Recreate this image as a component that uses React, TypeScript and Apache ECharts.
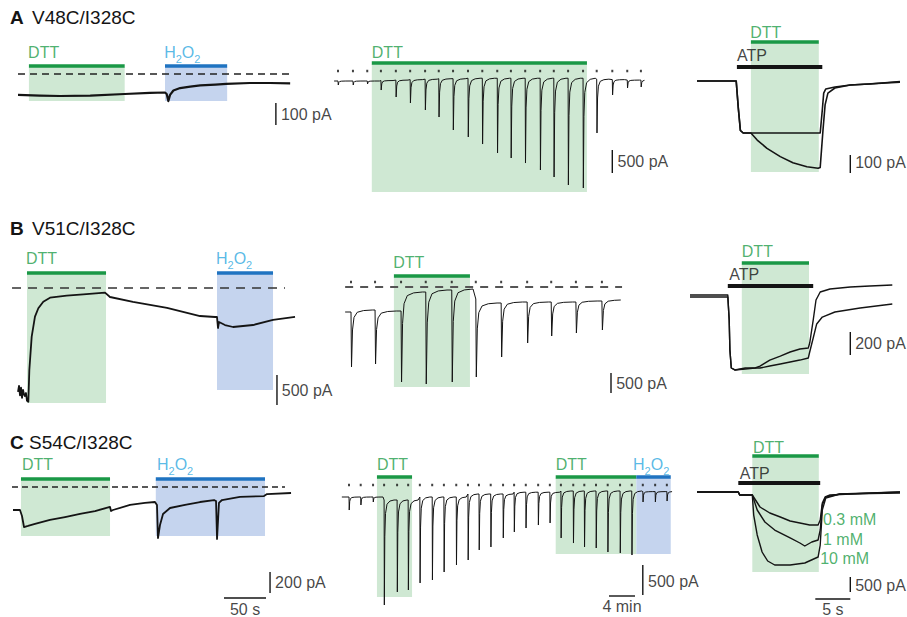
import React, { useEffect, useRef } from "react";
import * as echarts from "echarts";

type Pt = [number, number];

// ================= DATA (time in s or min, current in pA; 0 = zero-current level) =================
// ---- A: V48C/I328C ----
const a1Trace: Pt[] = [[0,-95],[26,-98],[50,-100],[86,-98],[127,-91],[157,-86],[175,-84],[177,-91],[179,-123],[181,-95],[185,-75],[193,-64],[205,-57],[217,-52],[235,-48],[248,-45],[276,-41],[300,-41],[324,-43]];
const a1Dtt: Pt = [13, 127];
const a1H2o2: Pt = [175, 249];

const a2Times = [0, 2.3, 4.5, 6.6, 8.9, 11.1, 13.4, 15.5, 17.7, 20.0, 22.2, 24.5, 26.6, 28.8, 31.1, 33.2, 35.4, 37.7, 39.8, 42.2, 44.5, 46.6];
const a2Peaks = [-87, -87, -65, -196, -348, -478, -630, -783, -1065, -1217, -1370, -1565, -1674, -1783, -1935, -2087, -2261, -2326, -1130, -304, -152, -130];
const a2Base = [0, 0, 0, 10, 20, 30, 40, 50, 50, 60, 60, 60, 60, 60, 60, 60, 60, 60, 40, 30, 20, 20];
const a2Dtt: Pt = [5.2, 38.3];

const a3TraceAtp: Pt[] = [[0,0],[5.6,0],[5.9,-150],[6.2,-275],[6.6,-289],[10,-289],[14,-289],[17.6,-289],[17.9,-161],[18.1,-67],[18.4,-44],[19.7,-33],[21.9,-22],[24.7,-17],[29,-3]];
const a3TraceDtt: Pt[] = [[0,0],[5.6,0],[5.9,-150],[6.2,-275],[6.6,-289],[7.7,-289],[8.6,-328],[10,-374],[11.9,-420],[13.7,-454],[15.7,-476],[17.3,-485],[17.6,-480],[18,-272],[18.3,-133],[18.7,-67],[19.7,-39],[21.9,-22],[29,-6]];
const a3Dtt: Pt = [7.7, 17.4];
const a3Atp: Pt = [5.7, 17.9];

// ---- B: V51C/I328C ----
const b1Trace: Pt[] = [[0,-1730],[1.2,-1630],[2.4,-1790],[3.6,-1660],[4.8,-1830],[6,-1700],[7.1,-1770],[8.3,-1800],[9.5,-1750],[10.7,-1880],[12.3,-1895],[13.5,-1367],[16.3,-811],[20.2,-478],[24.2,-338],[30.1,-228],[38.1,-162],[58,-128],[77.7,-105],[103.6,-78],[109.5,-150],[136.9,-233],[177.4,-333],[216.7,-467],[234.5,-483],[236.9,-483],[238.1,-667],[239.3,-567],[246.4,-617],[256,-650],[279.8,-617],[303.6,-533],[329.8,-483]];
const b1Dtt: Pt = [10.7, 104.8];
const b1H2o2: Pt = [236.9, 303.6];

const b2Times = [0, 3.7, 7.7, 11.5, 15.5, 19.2, 23.1, 27.1, 30.8, 34.6, 38.6];
const b2Peaks = [-2000, -1925, -2375, -2425, -2375, -2250, -1750, -1400, -1225, -1150, -1075];
const b2Pre = [-625, -575, -600, -125, -75, -300, -400, -375, -375, -375, -350];
const b2Post = [-575, -600, -125, -75, -50, -400, -375, -375, -375, -350, -325];
const b2Dtt: Pt = [6.6, 18.3];

const b3TraceUpper: Pt[] = [[0,9],[5.4,9],[5.6,-209],[5.7,-470],[5.9,-626],[6.4,-643],[7.9,-635],[9.3,-626],[10,-609],[11.4,-557],[12.9,-522],[14.3,-487],[15.7,-461],[16.9,-452],[17.1,-409],[17.6,-209],[18,-35],[18.6,35],[20,61],[22.9,78],[25.7,87],[28.9,96]];
const b3TraceLower: Pt[] = [[0,-9],[5.4,-9],[5.6,-209],[5.7,-470],[5.9,-626],[6.4,-643],[7.9,-626],[10,-626],[11.4,-609],[12.9,-591],[14.3,-574],[15.7,-557],[16.9,-539],[17.1,-487],[17.6,-365],[18.1,-243],[18.9,-183],[20.7,-139],[24.3,-104],[28.9,-70]];
const b3Dtt: Pt = [7.4, 17.0];
const b3Atp: Pt = [5.4, 17.6];

// ---- C: S54C/I328C ----
const c1Trace: Pt[] = [[0,-219],[8.3,-219],[10.7,-276],[13.1,-381],[17.9,-371],[26.2,-352],[44,-314],[61.9,-286],[79.8,-257],[97.6,-229],[115.5,-190],[116.7,-229],[119,-219],[139.3,-171],[157.1,-152],[169,-143],[171.4,-171],[172.6,-486],[175,-362],[178.6,-257],[186.9,-200],[204.8,-171],[222.6,-143],[239.3,-124],[241.7,-133],[242.9,-495],[245.2,-152],[248.8,-124],[270.2,-95],[298.8,-86],[302.4,-67],[331,-57]];
const c1Dtt: Pt = [9.5, 115.5];
const c1H2o2: Pt = [170, 300];

const c2Times = [0, 1.8, 3.7, 5.4, 7.4, 9.1, 10.9, 12.8, 14.6, 16.5, 18.3, 20, 21.8, 23.7, 25.4, 27.2, 29.1, 30.9, 32.6, 34.5, 36.2, 38, 39.8, 41.7, 43.5, 45.2, 47.1, 48.9];
const c2Peaks = [-217, -133, -83, -1800, -1583, -1550, -1433, -1383, -1250, -1133, -1050, -883, -833, -683, -583, -517, -467, -433, -683, -767, -833, -850, -917, -933, -967, -83, -83, -67];
const c2Base = [0, 0, 0, -50, -50, -50, 0, 0, 0, 0, 50, 50, 50, 50, 80, 80, 80, 80, 100, 100, 100, 100, 100, 100, 100, 90, 90, 90];
const c2Dtt1: Pt = [4.3, 9.7];
const c2Dtt2: Pt = [31.8, 44.2];
const c2H2o2: Pt = [44.2, 49.5];

const c3Trace03: Pt[] = [[0,0],[5.9,0],[6.1,-100],[7.9,-100],[9,-500],[10.4,-700],[11.9,-833],[13.3,-967],[14.7,-1033],[16.1,-1100],[17.3,-1100],[17.6,-933],[17.9,-367],[18.3,-167],[19,-100],[21.9,-67],[29,0]];
const c3Trace1: Pt[] = [[0,0],[5.9,0],[6.1,-100],[7.9,-100],[8.6,-600],[9.7,-1000],[11.1,-1267],[13.3,-1533],[14.7,-1700],[15.4,-1800],[15.9,-1733],[16.4,-1667],[17.3,-1600],[17.6,-1267],[17.9,-433],[18.4,-167],[20.4,-67],[29,0]];
const c3Trace10: Pt[] = [[0,0],[5.9,0],[6.1,-100],[7.9,-100],[8.1,-767],[8.6,-1433],[9.3,-2000],[10.1,-2300],[11.1,-2433],[13.3,-2433],[15.4,-2367],[17.3,-2167],[17.6,-1767],[17.9,-600],[18.4,-200],[20.4,-67],[29,-33]];
const c3Dtt: Pt = [7.9, 17.4];
const c3Atp: Pt = [5.9, 17.6];
const c3Concs = ["0.3 mM", "1 mM", "10 mM"];

const panelTitles = [["A", "V48C/I328C"], ["B", "V51C/I328C"], ["C", "S54C/I328C"]];
const scaleTexts = ["100 pA", "500 pA", "100 pA", "500 pA", "500 pA", "200 pA", "200 pA", "500 pA", "500 pA"];
const timeTexts = ["50 s", "4 min", "5 s"];

// ================= STYLE / LAYOUT =================
const FONT = "'Liberation Sans', Arial, Helvetica, sans-serif";
const GREEN_TEXT = "#1f9d4a";
const GREEN_BAR = "#1a9846";
const BLUE_BAR = "#1f73c1";
const BLUE_TEXT = "#2ea8e0";
const GREEN_SHADE = "#cfe8d3";
const BLUE_SHADE = "#c5d4ee";
const INK = "#141414";

interface Frame { left: number; top: number; width: number; height: number; x0: number; y0: number; pxX: number; pxY: number; }
const frames: Frame[] = [
  { left: 0, top: 35, width: 345, height: 170, x0: 18, y0: 74, pxX: 0.84, pxY: 0.22 },
  { left: 320, top: 35, width: 360, height: 170, x0: 338, y0: 81, pxX: 6.5, pxY: 0.046 },
  { left: 680, top: 20, width: 227, height: 180, x0: 697, y0: 81, pxX: 7, pxY: 0.18 },
  { left: 0, top: 240, width: 345, height: 180, x0: 18, y0: 288, pxX: 0.84, pxY: 0.06 },
  { left: 320, top: 240, width: 360, height: 170, x0: 351, y0: 287, pxX: 6.5, pxY: 0.04 },
  { left: 680, top: 240, width: 227, height: 170, x0: 690, y0: 296, pxX: 7, pxY: 0.115 },
  { left: 0, top: 440, width: 345, height: 177, x0: 13, y0: 487, pxX: 0.84, pxY: 0.105 },
  { left: 320, top: 440, width: 360, height: 177, x0: 349, y0: 497, pxX: 6.5, pxY: 0.06 },
  { left: 680, top: 430, width: 227, height: 187, x0: 697, y0: 492, pxX: 7, pxY: 0.03 },
];

const pulseShape: Pt[] = [[0.02, 1], [0.06, 0.35], [0.12, 0.13], [0.25, 0.04], [0.5, 0.01], [0.85, 0]];

function train(times: number[], peaks: number[], pre: number[], post: number[], start: number, end: number, spacing: number): Pt[] {
  const pts: Pt[] = [[start, pre[0]]];
  times.forEach((t, i) => {
    pts.push([t, pre[i]]);
    for (const [f, d] of pulseShape) {
      const tt = t + f * spacing;
      if (tt < end) pts.push([tt, post[i] + (peaks[i] - post[i]) * d]);
    }
  });
  pts.push([end, post[post.length - 1]]);
  return pts;
}

const h2o2Rich = {
  n: { fontSize: 16, fontFamily: FONT, color: BLUE_TEXT, lineHeight: 24 },
  s: { fontSize: 11, fontFamily: FONT, color: BLUE_TEXT, lineHeight: 12, verticalAlign: "bottom" },
};
const H2O2 = "{n|H}{s|2}{n|O}{s|2}";

function buildOption() {
  const series: any[] = [];
  const grid = frames.map((f) => ({ left: f.left, top: f.top, width: f.width, height: f.height }));
  const xAxis = frames.map((f, i) => ({
    type: "value", gridIndex: i, show: false,
    min: (f.left - f.x0) / f.pxX, max: (f.left + f.width - f.x0) / f.pxX,
  }));
  const yAxis = frames.map((f, i) => ({
    type: "value", gridIndex: i, show: false,
    max: (f.y0 - f.top) / f.pxY, min: (f.y0 - f.top - f.height) / f.pxY,
  }));

  const shade = (g: number, rects: [Pt, number, number, string][]) => {
    series.push({
      type: "custom", xAxisIndex: g, yAxisIndex: g, silent: true, z: 1,
      data: rects.map((r) => [r[0][0], r[0][1], r[1], r[2]]),
      renderItem: (params: any, api: any) => {
        const a = api.coord([api.value(0), api.value(2)]);
        const b = api.coord([api.value(1), api.value(3)]);
        return { type: "rect", shape: { x: a[0], y: a[1], width: b[0] - a[0], height: b[1] - a[1] }, style: { fill: rects[params.dataIndex][3] } };
      },
    });
  };
  const line = (g: number, data: Pt[], color: string, width: number, z = 3, type: any = "solid") => {
    series.push({
      type: "line", xAxisIndex: g, yAxisIndex: g, data, symbol: "none", silent: true, z,
      lineStyle: { color, width, type, cap: "butt", join: "round" },
    });
  };
  const bar = (g: number, w: Pt, y: number, color: string, width = 3.5) =>
    line(g, [[w[0], y], [w[1], y]], color, width, 4);
  const dash = (g: number, w: Pt, type: number[], color: string, width: number) =>
    line(g, [[w[0], 0], [w[1], 0]], color, width, 2, type);
  const dots = (g: number, times: number[], y: number) => {
    series.push({
      type: "scatter", xAxisIndex: g, yAxisIndex: g, silent: true, z: 4,
      data: times.map((t) => [t, y]), symbol: "rect", symbolSize: [2, 2.5], itemStyle: { color: INK },
    });
  };
  const scaleBar = (g: number, t: number, from: number, to: number) =>
    line(g, [[t, from], [t, to]], INK, 1.4, 4);

  type Lab = { at: Pt; text: string; color?: string; align?: string; rich?: any };
  const labels = (g: number, items: Lab[]) => {
    series.push({
      type: "scatter", xAxisIndex: g, yAxisIndex: g, silent: true, z: 6,
      symbolSize: 1, itemStyle: { color: "rgba(0,0,0,0)" },
      data: items.map((it) => ({
        value: it.at,
        label: {
          show: true, position: "inside", formatter: it.text, color: it.color || INK,
          fontSize: 16, fontFamily: FONT, align: it.align || "left", verticalAlign: "middle",
          rich: it.rich,
        },
      })),
    });
  };

  // ---- A1 ----
  shade(0, [[a1Dtt, 32, -123, GREEN_SHADE], [a1H2o2, 32, -123, BLUE_SHADE]]);
  dash(0, [0, 324], [7, 5], "#222", 1.3);
  line(0, a1Trace, INK, 2.2);
  bar(0, a1Dtt, 36, GREEN_BAR);
  bar(0, a1H2o2, 36, BLUE_BAR);
  scaleBar(0, 307, -132, -232);
  labels(0, [
    { at: [12, 100], text: "DTT", color: GREEN_TEXT },
    { at: [174, 100], text: H2O2, color: BLUE_TEXT, rich: h2o2Rich },
    { at: [313, -186], text: scaleTexts[0] },
  ]);

  // ---- A2 ----
  shade(1, [[a2Dtt, 370, -2413, GREEN_SHADE]]);
  line(1, train(a2Times, a2Peaks, a2Base, a2Base, -0.6, 47.2, 2.2), INK, 1);
  dots(1, a2Times, 217);
  bar(1, a2Dtt, 391, GREEN_BAR);
  scaleBar(1, 42.2, -1500, -2000);
  labels(1, [
    { at: [5.2, 630], text: "DTT", color: GREEN_TEXT },
    { at: [43, -1760], text: scaleTexts[1] },
  ]);

  // ---- A3 ----
  shade(2, [[a3Dtt, 211, -506, GREEN_SHADE]]);
  line(2, a3TraceAtp, INK, 1.6);
  line(2, a3TraceDtt, INK, 1.6);
  bar(2, a3Dtt, 217, GREEN_BAR);
  bar(2, a3Atp, 78, INK, 4);
  scaleBar(2, 21.9, -411, -511);
  labels(2, [
    { at: [7.6, 267], text: "DTT", color: GREEN_TEXT },
    { at: [5.7, 144], text: "ATP" },
    { at: [22.6, -455], text: scaleTexts[2] },
  ]);

  // ---- B1 ----
  shade(3, [[b1Dtt, 233, -1917, GREEN_SHADE], [b1H2o2, 233, -1700, BLUE_SHADE]]);
  dash(3, [-7.1, 317.9], [9, 7], "#333", 1.5);
  line(3, b1Trace, INK, 1.8);
  bar(3, b1Dtt, 250, GREEN_BAR);
  bar(3, b1H2o2, 250, BLUE_BAR);
  scaleBar(3, 308.3, -1450, -1950);
  labels(3, [
    { at: [9.5, 500], text: "DTT", color: GREEN_TEXT },
    { at: [235.7, 500], text: H2O2, color: BLUE_TEXT, rich: h2o2Rich },
    { at: [314, -1700], text: scaleTexts[3] },
  ]);

  // ---- B2 ----
  shade(4, [[b2Dtt, 250, -2500, GREEN_SHADE]]);
  dash(4, [-0.9, 41.7], [8, 7], "#555", 2);
  line(4, train(b2Times, b2Peaks, b2Pre, b2Post, -0.9, 41.5, 3.85), INK, 1);
  dots(4, b2Times, 125);
  bar(4, b2Dtt, 275, GREEN_BAR);
  scaleBar(4, 40, -2150, -2650);
  labels(4, [
    { at: [6.5, 625], text: "DTT", color: GREEN_TEXT },
    { at: [40.8, -2400], text: scaleTexts[4] },
  ]);

  // ---- B3 ----
  shade(5, [[b3Dtt, 278, -678, GREEN_SHADE]]);
  line(5, b3TraceUpper, INK, 1.4);
  line(5, b3TraceLower, INK, 1.4);
  bar(5, b3Dtt, 287, GREEN_BAR);
  bar(5, b3Atp, 87, INK, 4);
  scaleBar(5, 22.9, -313, -513);
  labels(5, [
    { at: [7.4, 383], text: "DTT", color: GREEN_TEXT },
    { at: [5.6, 183], text: "ATP" },
    { at: [23.6, -413], text: scaleTexts[5] },
  ]);

  // ---- C1 ----
  shade(6, [[c1Dtt, 67, -467, GREEN_SHADE], [c1H2o2, 67, -467, BLUE_SHADE]]);
  dash(6, [-1.2, 323.8], [6, 4], "#222", 1.3);
  line(6, c1Trace, INK, 1.8);
  bar(6, c1Dtt, 76, GREEN_BAR);
  bar(6, c1H2o2, 76, BLUE_BAR);
  scaleBar(6, 306, -810, -1010);
  line(6, [[251.2, -1057], [301.2, -1057]], INK, 1.4, 4);
  labels(6, [
    { at: [10.7, 210], text: "DTT", color: GREEN_TEXT },
    { at: [171.4, 210], text: H2O2, color: BLUE_TEXT, rich: h2o2Rich },
    { at: [312, -910], text: scaleTexts[6] },
    { at: [276.2, -1171], text: timeTexts[0], align: "center" },
  ]);

  // ---- C2 ----
  shade(7, [[c2Dtt1, 317, -1667, GREEN_SHADE], [c2Dtt2, 317, -950, GREEN_SHADE], [c2H2o2, 317, -950, BLUE_SHADE]]);
  line(7, train(c2Times, c2Peaks, c2Base, c2Base, -1.1, 49.7, 1.8), INK, 1);
  dots(7, c2Times, 200);
  bar(7, c2Dtt1, 333, GREEN_BAR);
  bar(7, c2Dtt2, 333, GREEN_BAR);
  bar(7, c2H2o2, 333, BLUE_BAR);
  scaleBar(7, 45.2, -1133, -1633);
  line(7, [[40, -1650], [44, -1650]], INK, 1.4, 4);
  labels(7, [
    { at: [4.3, 550], text: "DTT", color: GREEN_TEXT },
    { at: [31.8, 550], text: "DTT", color: GREEN_TEXT },
    { at: [43.7, 550], text: H2O2, color: BLUE_TEXT, rich: h2o2Rich },
    { at: [46, -1400], text: scaleTexts[7] },
    { at: [42, -1833], text: timeTexts[1], align: "center" },
  ]);

  // ---- C3 ----
  shade(8, [[c3Dtt, 1167, -2667, GREEN_SHADE]]);
  line(8, c3Trace03, INK, 1.4);
  line(8, c3Trace1, INK, 1.4);
  line(8, c3Trace10, INK, 1.4);
  bar(8, c3Dtt, 1200, GREEN_BAR);
  bar(8, c3Atp, 300, INK, 4);
  scaleBar(8, 21.9, -2833, -3333);
  line(8, [[16.9, -3567], [21.9, -3567]], INK, 1.4, 4);
  labels(8, [
    { at: [8, 1500], text: "DTT", color: GREEN_TEXT },
    { at: [6.1, 633], text: "ATP" },
    { at: [18.0, -933], text: c3Concs[0], color: GREEN_TEXT },
    { at: [18.0, -1567], text: c3Concs[1], color: GREEN_TEXT },
    { at: [17.6, -2200], text: c3Concs[2], color: GREEN_TEXT },
    { at: [22.6, -3100], text: scaleTexts[8] },
    { at: [19.4, -3933], text: timeTexts[2], align: "center" },
  ]);

  const titleY = [17, 228, 442];
  const nameX = [32, 32, 29];
  const graphic: any[] = [];
  panelTitles.forEach(([letter, name], i) => {
    graphic.push({ type: "text", x: 10, y: titleY[i], style: { text: letter, fontSize: 19, fontWeight: "bold", fontFamily: FONT, fill: INK, verticalAlign: "middle", textVerticalAlign: "middle" } });
    graphic.push({ type: "text", x: nameX[i], y: titleY[i], style: { text: name, fontSize: 19, fontFamily: FONT, fill: INK, verticalAlign: "middle", textVerticalAlign: "middle" } });
  });

  return { animation: false, backgroundColor: "#ffffff", grid, xAxis, yAxis, series, graphic };
}

export default function App() {
  const ref = useRef<HTMLDivElement>(null);
  useEffect(() => {
    document.body.style.margin = "0";
    const chart = echarts.init(ref.current!, null, { renderer: "svg" });
    chart.setOption(buildOption() as any);
    return () => chart.dispose();
  }, []);
  return <div ref={ref} style={{ width: 907, height: 617, background: "#fff" }} />;
}
